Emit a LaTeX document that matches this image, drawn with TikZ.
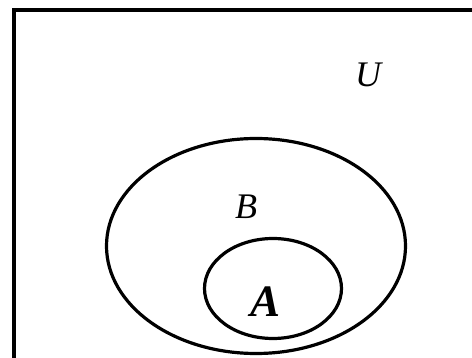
\documentclass[tikz,border=0pt]{standalone}
\usepackage{fontspec}
\setmainfont{Liberation Serif}
\tikzset{
    setline/.style={line width=3.2pt},
    setname/.style={font=\fontsize{36}{40}\selectfont\itshape, inner sep=0pt}
}
\begin{document}
\begin{tikzpicture}[x=1pt, y=-1pt]
    \useasboundingbox (0,0) rectangle (472,358);
    \clip (0,0) rectangle (472,358);
    % universe
    \draw[line width=4pt] (13.5,10) rectangle (490,380);
    % sets
    \draw[setline] (256,246) ellipse [x radius=149.5, y radius=107.5];
    \draw[setline] (273,288.5) ellipse [x radius=68.5, y radius=50];
    \node[setname] (U) at (368,75) {U};
    \node[setname] (B) at (246,207) {B};
    \node[setname, font=\fontsize{45}{50}\selectfont\bfseries\itshape] (A) at (266,302) {A};
\end{tikzpicture}
\end{document}
